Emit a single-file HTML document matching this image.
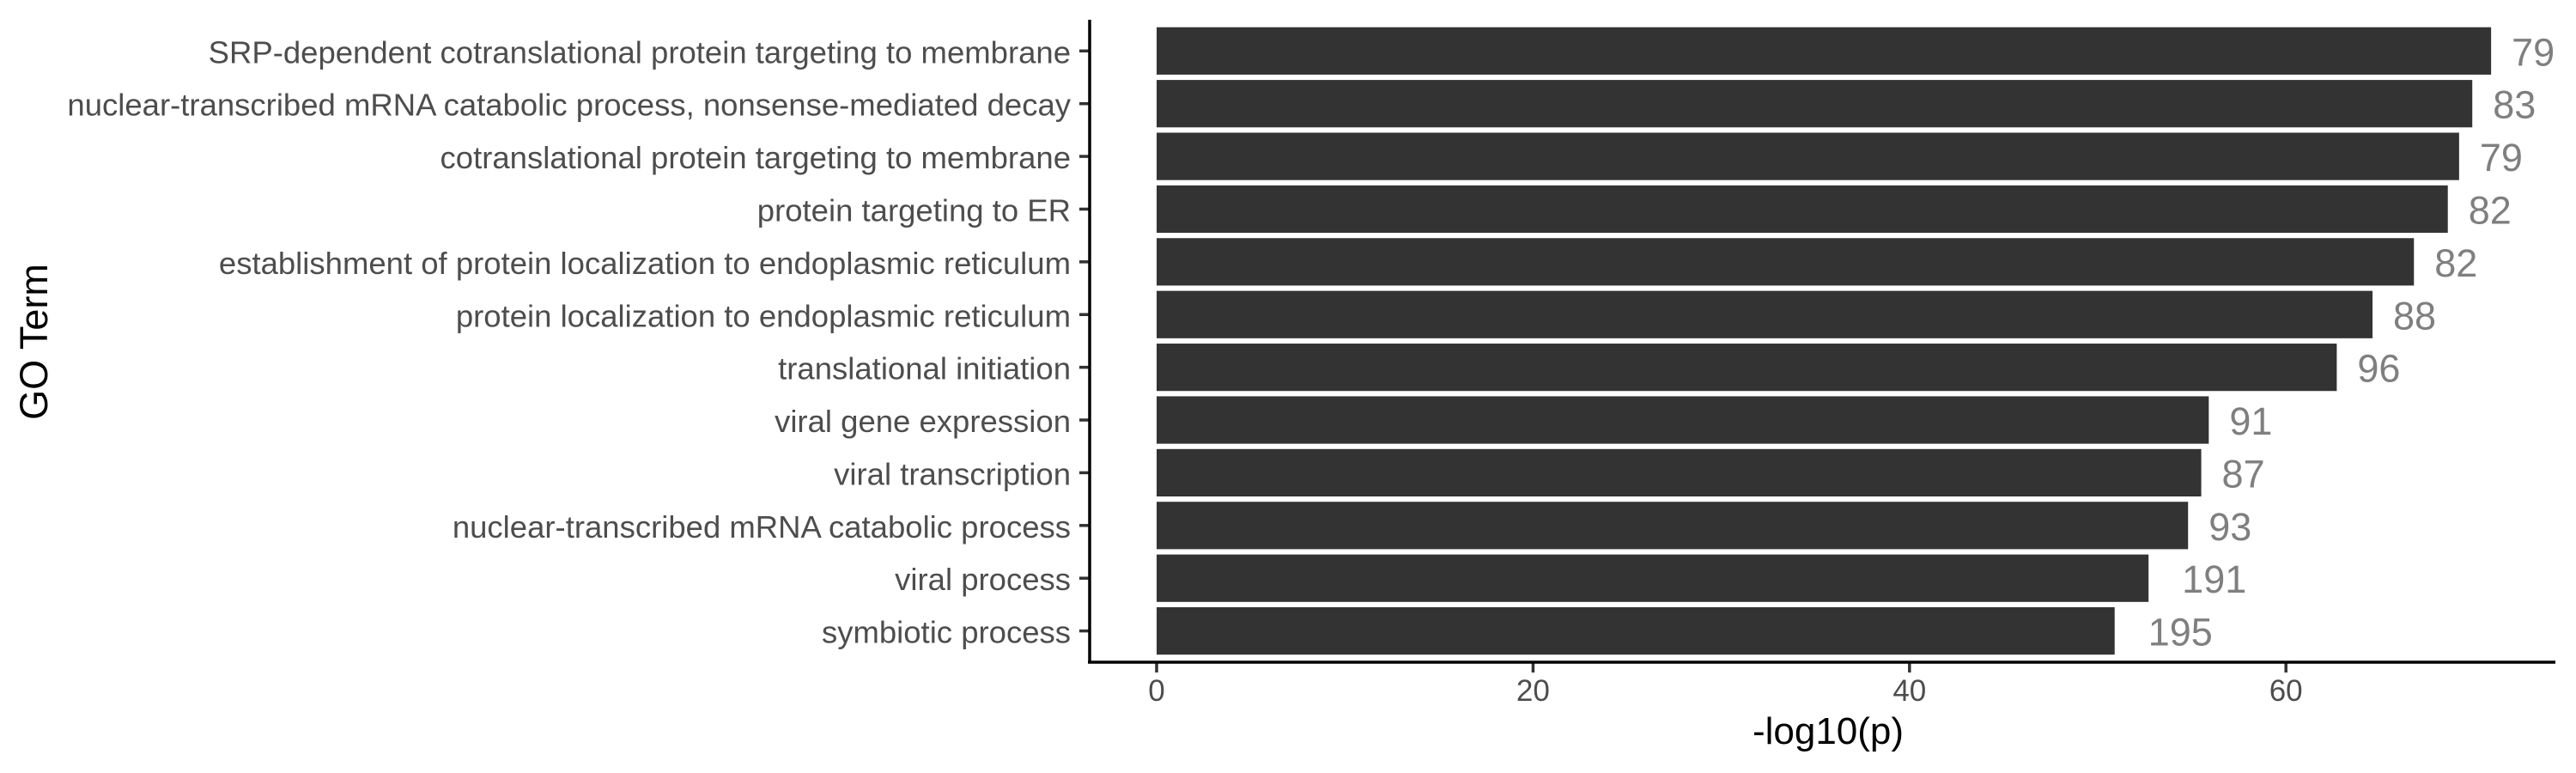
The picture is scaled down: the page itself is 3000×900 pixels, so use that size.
<!DOCTYPE html>
<html><head><meta charset="utf-8"><style>
html,body{margin:0;padding:0;background:#fff;}
svg{display:block;font-family:"Liberation Sans",sans-serif;}
</style></head><body>
<svg id="chart" width="3000" height="900">
<g id="bars"></g>
<g id="ylabels"></g>
<g id="xticks"></g>
<line x1="1269" y1="23" x2="1269" y2="772" stroke="#000" stroke-width="3.5"/>
<line x1="1267" y1="771" x2="2976" y2="771" stroke="#000" stroke-width="3.5"/>
<text x="2129" y="866" font-size="44" text-anchor="middle" fill="#000">-log10(p)</text>
<text transform="translate(55,398) rotate(-90)" font-size="45" text-anchor="middle" fill="#000">GO Term</text>
</svg>
<script>
const categories = ["SRP-dependent cotranslational protein targeting to membrane","nuclear-transcribed mRNA catabolic process, nonsense-mediated decay","cotranslational protein targeting to membrane","protein targeting to ER","establishment of protein localization to endoplasmic reticulum","protein localization to endoplasmic reticulum","translational initiation","viral gene expression","viral transcription","nuclear-transcribed mRNA catabolic process","viral process","symbiotic process"];
const values = [70.9,69.9,69.2,68.6,66.8,64.6,62.7,55.9,55.5,54.8,52.7,50.9];
const counts = ["79","83","79","82","82","88","96","91","87","93","191","195"];
const xTicks = [0,20,40,60];
const NS="http://www.w3.org/2000/svg";
const x0=1347, xs=21.92;
function xScale(v){return x0+v*xs;}
const yTop=59.3, step=61.39;
function yScale(i){return yTop+i*step;}
const bh=55.2;
const gb=document.getElementById('bars'), gy=document.getElementById('ylabels'), gx=document.getElementById('xticks');
function mk(tag,attrs,parent){const e=document.createElementNS(NS,tag);for(const k in attrs)e.setAttribute(k,attrs[k]);parent.appendChild(e);return e;}
categories.forEach((c,i)=>{
  const cy=yScale(i);
  const r=mk('rect',{x:xScale(0),y:cy-bh/2,width:xScale(values[i])-xScale(0),height:bh,fill:'#333333'},gb);
  
  
  const off=24+(counts[i].length-2)*15;
  const t=mk('text',{x:xScale(values[i])+off,y:cy+17,'font-size':45,fill:'#7f7f7f'},gb);
  t.textContent=counts[i];
  
  
  const l=mk('text',{x:1247,y:cy+14,'font-size':36.5,fill:'#4d4d4d','text-anchor':'end'},gy);
  l.textContent=c;
  
  
  const tk=mk('line',{x1:1257,x2:1269,y1:cy,y2:cy,stroke:'#333','stroke-width':3.5},gy);
  
  
});
xTicks.forEach(v=>{
  const x=xScale(v);
  const tk=mk('line',{x1:x,x2:x,y1:771,y2:783,stroke:'#333','stroke-width':3.5},gx);
  
  
  const t=mk('text',{x:x,y:816,'font-size':35,fill:'#4d4d4d','text-anchor':'middle'},gx);
  t.textContent=v;
  
  
});
</script>
</body></html>
